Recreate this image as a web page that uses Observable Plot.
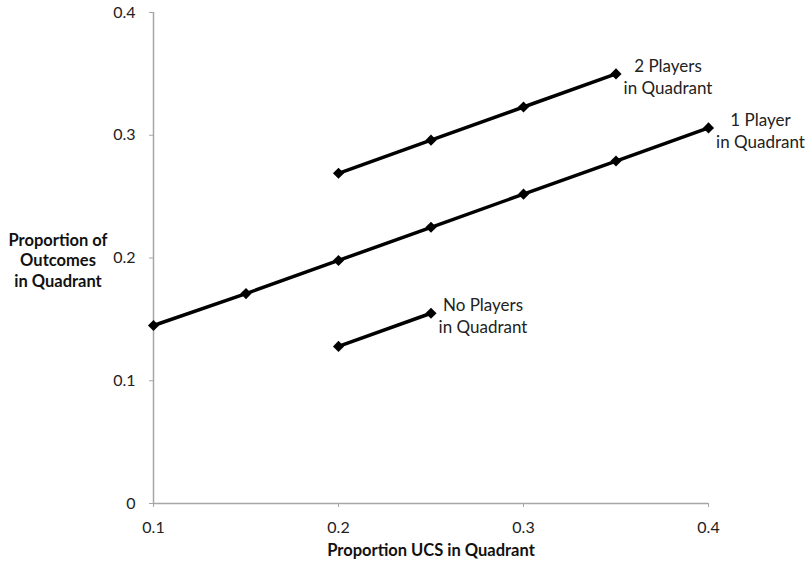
<!DOCTYPE html>
<html>
<head>
<meta charset="utf-8">
<script src="https://cdn.jsdelivr.net/npm/d3@7"></script>
<script src="https://cdn.jsdelivr.net/npm/@observablehq/plot@0.6"></script>
<style>
  html, body { margin: 0; padding: 0; background: #fff; }
  #chart svg { display: block; }
</style>
</head>
<body>
<div id="chart"></div>
<script>
const xDomain = [0.1, 0.4];
const yDomain = [0, 0.4];
const xTicks = [0.1, 0.2, 0.3, 0.4];
const yTicks = [0, 0.1, 0.2, 0.3, 0.4];

const seriesNames = ["2 Players\nin Quadrant", "1 Player\nin Quadrant", "No Players\nin Quadrant"];
const xTwo = [0.2, 0.25, 0.3, 0.35];
const yTwo = [0.269, 0.296, 0.323, 0.350];
const xOne = [0.1, 0.15, 0.2, 0.25, 0.3, 0.35, 0.4];
const yOne = [0.145, 0.171, 0.198, 0.225, 0.252, 0.279, 0.306];
const xNone = [0.2, 0.25];
const yNone = [0.128, 0.155];

const xs = [xTwo, xOne, xNone];
const ys = [yTwo, yOne, yNone];
const data = [];
seriesNames.forEach((s, i) => xs[i].forEach((x, j) => data.push({series: s, x, y: ys[i][j]})));
const lastPoints = seriesNames.map((s, i) => ({series: s, x: xs[i][xs[i].length - 1], y: ys[i][ys[i].length - 1]}));

const font = "Lato, 'Open Sans', sans-serif";
const fmt = d => String(d);

const chart = Plot.plot({
  width: 806,
  height: 564,
  marginLeft: 153,
  marginRight: 98,
  marginTop: 12,
  marginBottom: 61,
  style: {fontFamily: font, background: "#fff", fontSize: "16px"},
  x: {domain: xDomain},
  y: {domain: yDomain},
  marks: [
    Plot.ruleX([xDomain[0]], {stroke: "#a6a6a6", strokeWidth: 1.5}),
    Plot.ruleY([yDomain[0]], {stroke: "#a6a6a6", strokeWidth: 1.5}),
    Plot.axisX({ticks: xTicks, tickSize: 4, text: null, stroke: "#a6a6a6", label: null}),
    Plot.axisY({ticks: yTicks, tickSize: 4, text: null, stroke: "#a6a6a6", label: null}),
    Plot.text(xTicks, {x: d => d, frameAnchor: "bottom", dy: 24, text: fmt, textAnchor: "middle", lineAnchor: "middle", fontSize: 16, fill: "#222"}),
    Plot.text(yTicks, {y: d => d, frameAnchor: "left", dx: -18, text: fmt, textAnchor: "end", lineAnchor: "middle", fontSize: 16, fill: "#222"}),
    Plot.line(data, {x: "x", y: "y", z: "series", stroke: "black", strokeWidth: 3.5}),
    Plot.dot(data, {x: "x", y: "y", symbol: "diamond2", r: 5, fill: "black", stroke: "none"}),
    Plot.text(lastPoints, {x: "x", y: "y", text: "series", dx: 52, dy: 2, textAnchor: "middle", lineAnchor: "middle", fontSize: 17, fill: "#222", lineHeight: 1.3}),
    Plot.text(["Proportion of\nOutcomes\nin Quadrant"], {frameAnchor: "left", dx: -95.5, dy: 2, textAnchor: "middle", lineAnchor: "middle", fontSize: 16.5, fontWeight: "bold", fill: "#111", lineHeight: 1.22}),
    Plot.text(["Proportion UCS in Quadrant"], {frameAnchor: "bottom", dy: 47, textAnchor: "middle", lineAnchor: "middle", fontSize: 16.5, fontWeight: "bold", fill: "#111"})
  ]
});
document.getElementById("chart").appendChild(chart);
</script>
</body>
</html>
